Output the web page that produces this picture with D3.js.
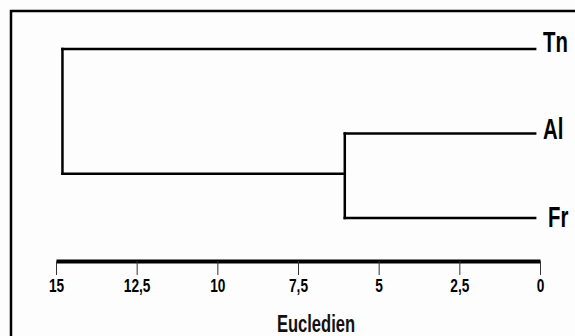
<!DOCTYPE html>
<html>
<head>
<meta charset="utf-8">
<script src="https://cdn.jsdelivr.net/npm/d3@7"></script>
<style>
  body { margin: 0; background: #fdfdfd; overflow: hidden; }
  svg { display: block; }
</style>
</head>
<body>
<script>
// leaves from top to bottom
let leaves = ["Tn", "Al", "Fr"];
// merge heights (euclidean distance)
let innerHeight = 6.05;   // Al + Fr
let rootHeight = 14.8;    // (Al,Fr) + Tn
let leafEnd = 0.15;       // where leaf branches stop
let tickValues = [15, 12.5, 10, 7.5, 5, 2.5, 0];

let font = "'Liberation Sans', Arial, sans-serif";

// squeeze a text horizontally so it looks like a narrow font
function condense(sel, f) {
  sel.each(function() {
    let len = this.getComputedTextLength();
    d3.select(this)
      .attr("textLength", len * f)
      .attr("lengthAdjust", "spacingAndGlyphs");
  });
}

let svg = d3.select("body").append("svg")
    .attr("width", 575)
    .attr("height", 336);

// frame: only left and top sides are visible
svg.append("line")
    .attr("x1", 11).attr("y1", 10)
    .attr("x2", 11).attr("y2", 336)
    .attr("stroke", "black")
    .attr("stroke-width", 2.5);
svg.append("line")
    .attr("x1", 10).attr("y1", 11)
    .attr("x2", 575).attr("y2", 11)
    .attr("stroke", "black")
    .attr("stroke-width", 2.5);

let x = d3.scaleLinear().domain([15, 0]).range([56, 540]);
let y = d3.scalePoint().domain(leaves).range([49, 218]);

let yInner = (y("Al") + y("Fr")) / 2 - 2;

// branches as [x1,y1,x2,y2]
let segs = [
  [leafEnd, y("Tn"), rootHeight, y("Tn")],
  [leafEnd, y("Al"), innerHeight, y("Al")],
  [leafEnd, y("Fr"), innerHeight, y("Fr")],
  [innerHeight, y("Al"), innerHeight, y("Fr")],
  [innerHeight, yInner, rootHeight, yInner],
  [rootHeight, y("Tn"), rootHeight, yInner]
];

svg.selectAll(".branch").data(segs)
  .enter().append("line")
    .attr("class", "branch")
    .attr("x1", d => x(d[0]))
    .attr("y1", d => d[1])
    .attr("x2", d => x(d[2]))
    .attr("y2", d => d[3])
    .attr("stroke", "black")
    .attr("stroke-width", 2.5)
    .attr("stroke-linecap", "square");

svg.selectAll(".leaf").data(leaves)
  .enter().append("text")
    .attr("class", "leaf")
    .attr("x", d => d == "Fr" ? 548 : 543)
    .attr("y", d => y(d) + (d == "Tn" ? 3 : (d == "Al" ? 5 : 9)))
    .attr("font-family", font)
    .attr("font-size", 29)
    .attr("font-weight", "bold")
    .text(d => d)
    .call(condense, 0.7);

// axis
let axis = d3.axisBottom(x)
    .tickValues(tickValues)
    .tickSize(14)
    .tickSizeOuter(0)
    .tickFormat(d => String(d).replace(".", ","));

let ax = svg.append("g")
    .attr("transform", "translate(0,261)")
    .attr("font-size", 19)
    .call(axis);

ax.select(".domain")
    .attr("stroke", "black")
    .attr("stroke-width", 4);
ax.selectAll(".tick line").attr("stroke", "#333").attr("stroke-width", 1);
ax.selectAll(".tick text")
    .attr("y", 31)
    .attr("dy", null)
    .attr("font-family", font)
    .attr("font-size", 19)
    .attr("font-weight", "bold")
    .attr("fill", "black")
    .call(condense, 0.72);

svg.append("text")
    .attr("x", 316)
    .attr("y", 332)
    .attr("text-anchor", "middle")
    .attr("font-family", font)
    .attr("font-size", 23)
    .attr("font-weight", "bold")
    .attr("fill", "#111")
    .text("Eucledien")
    .call(condense, 0.72);
</script>
</body>
</html>
